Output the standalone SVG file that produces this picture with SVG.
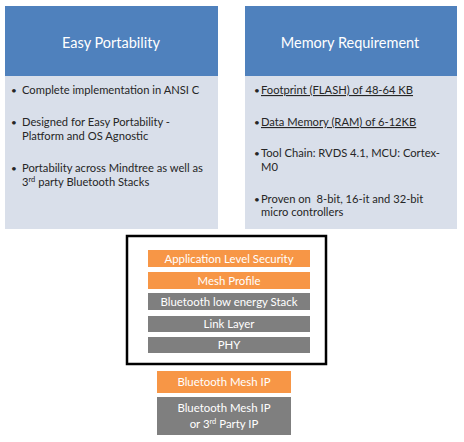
<svg xmlns="http://www.w3.org/2000/svg" width="464" height="442" viewBox="0 0 464 442">
<style>
.hdr{fill:#4f81bd}
.body{fill:#d9dfea}
.ht{font-family:Lato,"Open Sans",sans-serif;font-size:14.5px;fill:#fff;text-anchor:middle}
.bt{font-family:Lato,"Open Sans",sans-serif;font-size:11.2px;fill:#262626}
.bl{font-family:Lato,"Open Sans",sans-serif;font-size:10px;fill:#262626}
.orange{fill:#f79646}
.gray{fill:#7f7f7f}
.st{font-family:Lato,"Open Sans",sans-serif;font-size:11.4px;fill:#fff;text-anchor:middle}
</style>
<rect width="464" height="442" fill="#fff"/>
<g id="easy-portability">
<rect class="body" x="5" y="6" width="213" height="223"/>
<rect class="hdr" x="5" y="6" width="213" height="70"/>
<text class="ht" x="111" y="48">Easy Portability</text>
<text class="bl" x="11" y="94">•</text><text class="bt" x="22" y="94">Complete implementation in ANSI C</text>
<text class="bl" x="11" y="126">•</text><text class="bt" x="22" y="126">Designed for Easy Portability -</text>
<text class="bt" x="22" y="140">Platform and OS Agnostic</text>
<text class="bl" x="11" y="172">•</text><text class="bt" x="22" y="172">Portability across Mindtree as well as</text>
<text class="bt" x="22" y="186">3<tspan font-size="7.5" dy="-4">rd</tspan><tspan dy="4"> party Bluetooth Stacks</tspan></text>
</g>
<g id="memory-requirement">
<rect class="body" x="245" y="6" width="212" height="223"/>
<rect class="hdr" x="245" y="6" width="212" height="70"/>
<text class="ht" x="350" y="48">Memory Requirement</text>
<text class="bl" x="254" y="94">•</text><text class="bt" x="261" y="94" text-decoration="underline">Footprint (FLASH) of 48-64 KB</text>
<text class="bl" x="254" y="126">•</text><text class="bt" x="261" y="126" text-decoration="underline">Data Memory (RAM) of 6-12KB</text>
<text class="bl" x="254" y="157">•</text><text class="bt" x="261" y="157">Tool Chain: RVDS 4.1, MCU: Cortex-</text>
<text class="bt" x="261" y="171">M0</text>
<text class="bl" x="254" y="203">•</text><text class="bt" x="261" y="203" xml:space="preserve">Proven on  8-bit, 16-it and 32-bit</text>
<text class="bt" x="261" y="216">micro controllers</text>
</g>
<g id="stack">
<rect x="127" y="236" width="199" height="128" fill="none" stroke="#000" stroke-width="2.5"/>
</g>
<g id="app-security"><rect class="orange" x="148" y="250" width="162" height="17"/><text class="st" x="229" y="262.5">Application Level Security</text></g>
<g id="mesh-profile"><rect class="orange" x="148" y="272" width="162" height="17"/><text class="st" x="229" y="284.5">Mesh Profile</text></g>
<g id="ble-stack"><rect class="gray" x="148" y="293" width="162" height="17"/><text class="st" x="229" y="305.5">Bluetooth low energy Stack</text></g>
<g id="link-layer"><rect class="gray" x="148" y="316" width="162" height="16"/><text class="st" x="229" y="328">Link Layer</text></g>
<g id="phy"><rect class="gray" x="148" y="337" width="162" height="16"/><text class="st" x="229" y="349">PHY</text></g>
<g id="mesh-ip"><rect class="orange" x="157" y="371" width="134" height="22"/><text class="st" x="224" y="386">Bluetooth Mesh IP</text></g>
<g id="mesh-ip-3rd"><rect class="gray" x="157" y="397" width="134" height="38"/><text class="st" x="224" y="412">Bluetooth Mesh IP</text><text class="st" x="224" y="428">or 3<tspan font-size="7.5" dy="-4">rd</tspan><tspan dy="4"> Party IP</tspan></text></g>
<g id="connectors"/>
</svg>
